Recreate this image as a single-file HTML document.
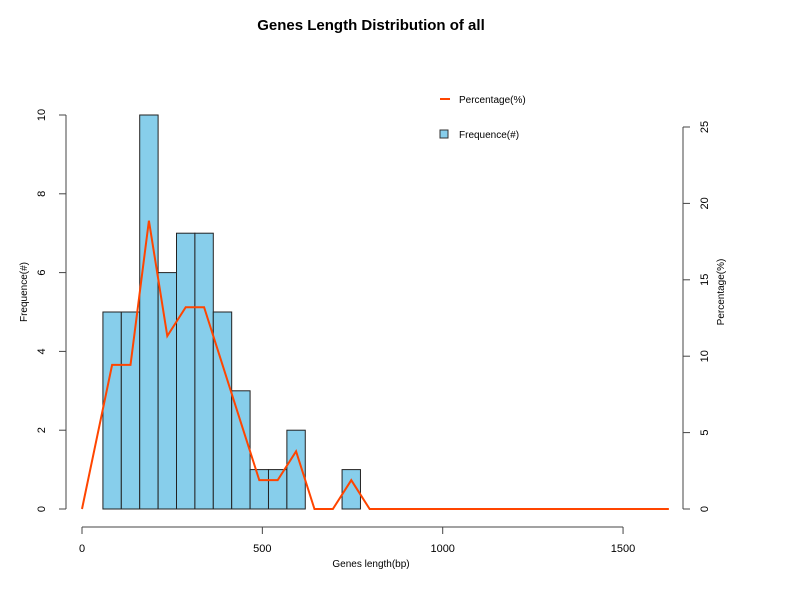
<!DOCTYPE html>
<html><head><meta charset="utf-8"><style>
body{margin:0;background:#fff;}
svg text{font-family:"Liberation Sans",sans-serif;font-size:11px;fill:#000;}
</style></head><body>
<svg id="chart" width="800" height="600" xmlns="http://www.w3.org/2000/svg">
<rect width="800" height="600" fill="#fff"/>
<text x="371" y="30" text-anchor="middle" style="font-size:15px;font-weight:bold">Genes Length Distribution of all</text>
<g id="bars"></g>
<g id="axes"></g>
<polyline id="pline" fill="none" stroke="#ff4500" stroke-width="2"/>
<g>
<line x1="440" x2="450" y1="99" y2="99" stroke="#ff4500" stroke-width="2"/>
<text x="459" y="103" style="font-size:10px">Percentage(%)</text>
<rect x="440" y="130" width="8" height="8" fill="#87ceeb" stroke="#333"/>
<text x="459" y="138" style="font-size:10px">Frequence(#)</text>
</g>
<text x="371" y="567" text-anchor="middle" style="font-size:10px">Genes length(bp)</text>
<text transform="translate(27,292) rotate(-90)" text-anchor="middle" style="font-size:10px">Frequence(#)</text>
<text transform="translate(724,292) rotate(-90)" text-anchor="middle" style="font-size:10px">Percentage(%)</text>
</svg>
<script>
const binStart = 58;
const binWidth = 51;
const counts = [5,5,10,6,7,7,5,3,1,1,2,0,0,1,0];
const lineEndX = 1627;
const xTicks = [0,500,1000,1500];
const yLeftTicks = [0,2,4,6,8,10];
const yRightTicks = [0,5,10,15,20,25];

const NS="http://www.w3.org/2000/svg";
const sx=v=>82+v*0.3607;
const syL=v=>509-v*39.4;
const syR=v=>509-v*15.28;
const total=counts.reduce((a,b)=>a+b,0);
const bars=document.getElementById('bars');
const axes=document.getElementById('axes');
function mk(tag,attrs,parent){const e=document.createElementNS(NS,tag);for(const k in attrs)e.setAttribute(k,attrs[k]);parent.appendChild(e);return e;}
counts.forEach((c,i)=>{
  const x0=sx(binStart+i*binWidth),x1=sx(binStart+(i+1)*binWidth);
  const r=mk('rect',{x:x0,y:syL(c),width:x1-x0,height:syL(0)-syL(c),fill:'#87ceeb',stroke:'#222','stroke-width':1},bars);
  
  
});
const pts=[[sx(0),syR(0)]];
counts.forEach((c,i)=>pts.push([sx(binStart+(i+0.5)*binWidth),syR(c/total*100)]));
pts.push([sx(lineEndX),syR(0)]);
document.getElementById('pline').setAttribute('points',pts.map(p=>p.join(',')).join(' '));
// x axis
mk('line',{x1:sx(xTicks[0]),x2:sx(xTicks[xTicks.length-1]),y1:527,y2:527,stroke:'#444'},axes);
xTicks.forEach(t=>{
  mk('line',{x1:sx(t),x2:sx(t),y1:527,y2:534,stroke:'#444'},axes);
  const tx=mk('text',{x:sx(t),y:552,'text-anchor':'middle'},axes);
  tx.textContent=t;
  
  
});
// left axis
mk('line',{x1:66,x2:66,y1:syL(yLeftTicks[yLeftTicks.length-1]),y2:syL(0),stroke:'#444'},axes);
yLeftTicks.forEach(t=>{
  mk('line',{x1:59,x2:66,y1:syL(t),y2:syL(t),stroke:'#444'},axes);
  const tx=mk('text',{transform:`translate(45,${syL(t)}) rotate(-90)`,'text-anchor':'middle'},axes);
  tx.textContent=t;
  
  
});
// right axis
mk('line',{x1:683,x2:683,y1:syR(yRightTicks[yRightTicks.length-1]),y2:syR(0),stroke:'#444'},axes);
yRightTicks.forEach(t=>{
  mk('line',{x1:683,x2:690,y1:syR(t),y2:syR(t),stroke:'#444'},axes);
  const tx=mk('text',{transform:`translate(708,${syR(t)}) rotate(-90)`,'text-anchor':'middle'},axes);
  tx.textContent=t;
  
  
});
</script>
</body></html>
